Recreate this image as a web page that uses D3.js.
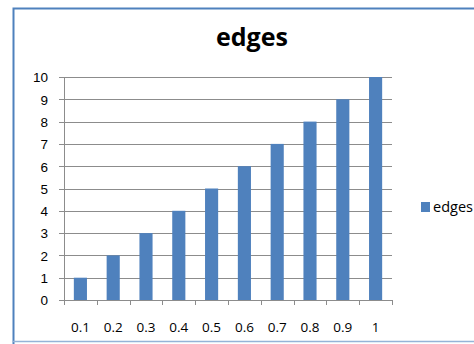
<!DOCTYPE html>
<html>
<head>
<meta charset="utf-8">
<script src="https://cdn.jsdelivr.net/npm/d3@7"></script>
<style>
  body { margin: 0; background: #fff; }
  svg { display: block; font-family: "Open Sans", Lato, sans-serif; }
</style>
</head>
<body>
<svg width="474" height="344"></svg>
<script>
// données
const categories = ["0.1", "0.2", "0.3", "0.4", "0.5", "0.6", "0.7", "0.8", "0.9", "1"];
const values = [1, 2, 3, 4, 5, 6, 7, 8, 9, 10];
const yTicks = [0, 1, 2, 3, 4, 5, 6, 7, 8, 9, 10];
const seriesName = "edges";

const svg = d3.select("svg");

// cadre du graphique
svg.append("path")
  .attr("d", "M13.5,344 V8.5 H474")
  .attr("fill", "none")
  .attr("stroke", "#4f81bd")
  .attr("stroke-width", 2);
svg.append("line")
  .attr("x1", 13).attr("x2", 474)
  .attr("y1", 341.5).attr("y2", 341.5)
  .attr("stroke", "#95b3d7")
  .attr("stroke-width", 1.5);

// titre
svg.append("text")
  .attr("x", 252)
  .attr("y", 46)
  .attr("text-anchor", "middle")
  .attr("font-size", 25)
  .attr("font-weight", "bold")
  .attr("fill", "#000")
  .text(seriesName);

/*----------- zone de tracé -----------*/
const plot = { left: 64, right: 392, top: 77, bottom: 300 };

const x = d3.scaleBand().domain(categories).range([plot.left, plot.right]).padding(0);
const y = d3.scaleLinear().domain([0, 10]).range([plot.bottom, plot.top]);

// grille horizontale
svg.append("g")
  .selectAll("line")
  .data(yTicks)
  .join("line")
  .attr("x1", plot.left - 5)
  .attr("x2", plot.right)
  .attr("y1", d => Math.round(y(d)) + 0.5)
  .attr("y2", d => Math.round(y(d)) + 0.5)
  .attr("stroke", "#8c8c8c")
  .attr("stroke-width", 1);

// axe y
const yAxis = svg.append("g")
  .attr("transform", "translate(" + (plot.left - 5) + ",0.5)")
  .call(d3.axisLeft(y).tickValues(yTicks).tickSize(0).tickPadding(11));
yAxis.select(".domain").remove();
yAxis.selectAll("text").attr("font-size", 13.5).attr("fill", "#000");

svg.append("line")
  .attr("x1", plot.left + 0.5).attr("x2", plot.left + 0.5)
  .attr("y1", plot.top).attr("y2", plot.bottom + 1)
  .attr("stroke", "#8c8c8c");

// barres
const bw = x.bandwidth() / 2.5;
svg.append("g")
  .selectAll("rect")
  .data(values)
  .join("rect")
  .attr("x", (d, i) => x(categories[i]) + (x.bandwidth() - bw) / 2)
  .attr("width", bw)
  .attr("y", d => y(d))
  .attr("height", d => y(0) - y(d))
  .attr("fill", "#4f81bd");

// axe x : graduations entre les catégories
const bounds = categories.map(c => x(c)).concat([plot.right]);
svg.append("g")
  .selectAll("line")
  .data(bounds)
  .join("line")
  .attr("x1", d => Math.round(d) + 0.5)
  .attr("x2", d => Math.round(d) + 0.5)
  .attr("y1", plot.bottom)
  .attr("y2", plot.bottom + 5)
  .attr("stroke", "#8c8c8c");
svg.append("line")
  .attr("x1", plot.left).attr("x2", plot.right + 1)
  .attr("y1", plot.bottom + 0.5).attr("y2", plot.bottom + 0.5)
  .attr("stroke", "#8c8c8c");

svg.append("g")
  .selectAll("text")
  .data(categories)
  .join("text")
  .attr("x", d => x(d) + x.bandwidth() / 2)
  .attr("y", 332)
  .attr("text-anchor", "middle")
  .attr("font-size", 13.5)
  .attr("fill", "#000")
  .text(d => d);

// légende
svg.append("rect")
  .attr("x", 421).attr("y", 202)
  .attr("width", 9).attr("height", 10)
  .attr("fill", "#4f81bd");
svg.append("text")
  .attr("x", 433).attr("y", 212)
  .attr("font-size", 14.5)
  .attr("fill", "#000")
  .text(seriesName);
</script>
</body>
</html>
